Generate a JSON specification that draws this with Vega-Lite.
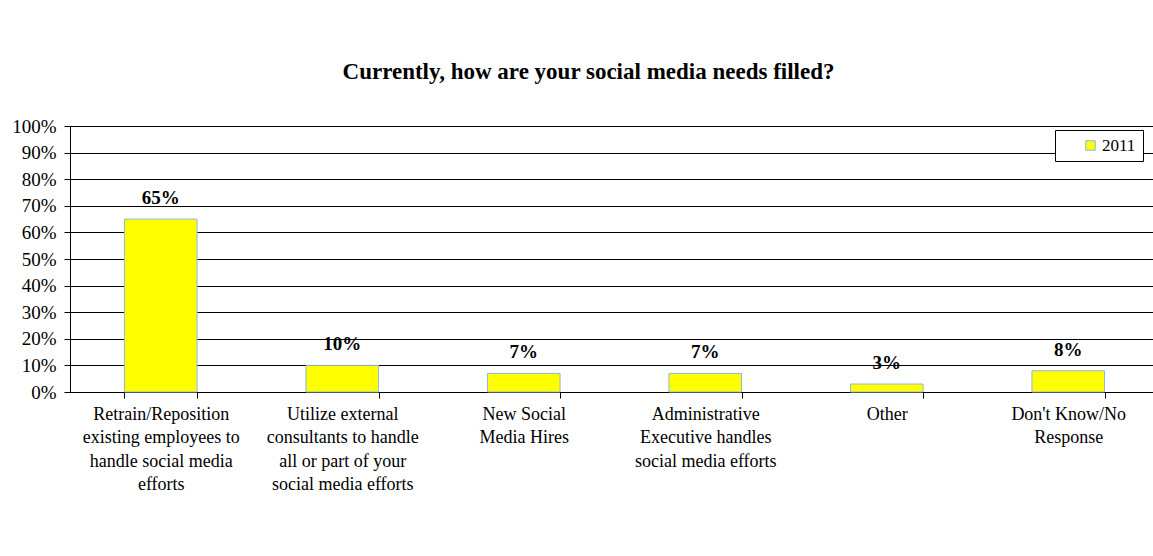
{
  "$schema": "https://vega.github.io/schema/vega-lite/v6.json",
  "autosize": "none",
  "padding": {"left": 70, "top": 126, "right": 0, "bottom": 164},
  "width": 1089,
  "height": 266,
  "background": "white",
  "title": {
    "text": "Currently, how are your social media needs filled?",
    "font": "Liberation Serif",
    "fontSize": 23,
    "fontWeight": "bold",
    "color": "#000000",
    "anchor": "middle",
    "dx": -26,
    "offset": 33
  },
  "data": {
    "values": [
      {"category": "Retrain/Reposition|existing employees to|handle social media|efforts", "year": "2011", "value": 0.65},
      {"category": "Utilize external|consultants to handle|all or part of your|social media efforts", "year": "2011", "value": 0.10},
      {"category": "New Social|Media Hires", "year": "2011", "value": 0.07},
      {"category": "Administrative|Executive handles|social media efforts", "year": "2011", "value": 0.07},
      {"category": "Other", "year": "2011", "value": 0.03},
      {"category": "Don't Know/No|Response", "year": "2011", "value": 0.08}
    ]
  },
  "encoding": {
    "x": {
      "field": "category",
      "type": "nominal",
      "sort": null,
      "scale": {"paddingInner": 0.6, "paddingOuter": 0.3},
      "axis": {
        "title": null,
        "labelExpr": "isValid(datum.value) ? split(datum.value, '|') : ''",
        "labelAngle": 0,
        "labelFont": "Liberation Serif",
        "labelFontSize": 18,
        "labelColor": "#000000",
        "labelLineHeight": 23.5,
        "labelPadding": 7,
        "labelBaseline": "top",
        "labelLimit": 200,
        "domainColor": "#000000",
        "tickColor": "#000000",
        "tickSize": 6,
        "tickBand": "extent",
        "grid": false
      }
    },
    "y": {
      "field": "value",
      "type": "quantitative",
      "scale": {"domain": [0, 1]},
      "axis": {
        "title": null,
        "format": ".0%",
        "values": [0, 0.1, 0.2, 0.3, 0.4, 0.5, 0.6, 0.7, 0.8, 0.9, 1],
        "labelFont": "Liberation Serif",
        "labelFontSize": 19,
        "labelColor": "#000000",
        "labelPadding": 8,
        "domainColor": "#000000",
        "tickColor": "#000000",
        "tickSize": 6,
        "grid": true,
        "gridColor": "#000000",
        "gridOpacity": 1,
        "gridWidth": 1
      }
    }
  },
  "layer": [
    {
      "mark": {"type": "bar", "stroke": "#8EB4E3", "strokeWidth": 1},
      "encoding": {
        "color": {
          "field": "year",
          "type": "nominal",
          "scale": {"range": ["#FFFF00"]},
          "legend": {
            "title": null,
            "orient": "none",
            "legendX": 985,
            "legendY": 4,
            "symbolType": "square",
            "symbolSize": 90,
            "symbolStrokeColor": "#8EB4E3",
            "symbolStrokeWidth": 1,
            "symbolOffset": 20,
            "labelExpr": "datum.label + '\u00a0\u00a0\u00a0\u00a0\u00a0\u00a0\u00a0'",
            "labelFont": "Liberation Serif",
            "labelFontSize": 17,
            "labelColor": "#000000",
            "labelOffset": 3,
            "strokeColor": "#000000",
            "fillColor": "white",
            "padding": 7,
            "rowPadding": 0
          }
        }
      }
    },
    {
      "mark": {
        "type": "text",
        "font": "Liberation Serif",
        "fontSize": 19,
        "fontWeight": "bold",
        "color": "#000000",
        "baseline": "bottom",
        "dy": -11
      },
      "encoding": {
        "text": {"field": "value", "type": "quantitative", "format": ".0%"}
      }
    }
  ],
  "config": {
    "view": {"stroke": null}
  }
}
